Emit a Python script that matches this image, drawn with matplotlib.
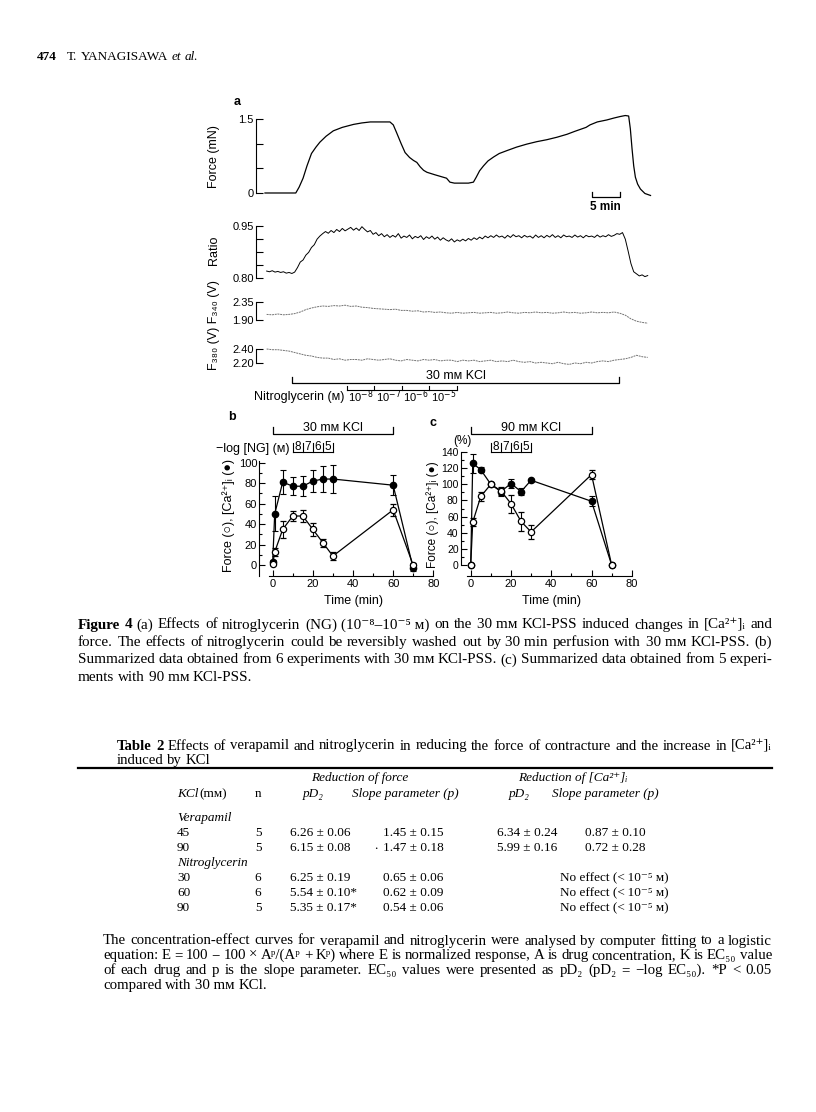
import numpy as np
import matplotlib
matplotlib.use('Agg')
import matplotlib.pyplot as plt
from matplotlib.transforms import blended_transform_factory

W, H = 816, 1112
SERIF = ['Liberation Serif', 'DejaVu Serif', 'DejaVu Sans']
SANS = ['Liberation Sans', 'DejaVu Sans']
plt.rcParams['font.family'] = SANS

# ---- panel a: traces (time in min) ----
force_t = [-0.3, 5.2, 5.8, 6.5, 7.2, 8.0, 8.8, 9.5, 10.6, 11.9, 13.5, 15.5, 17.0, 18.5,
           20.5, 22.0, 22.6, 23.2, 24.0, 24.7, 25.5, 26.2, 26.8, 27.4, 28.0, 28.6, 30.0,
           31.5, 32.1, 32.7, 33.5, 34.5, 36.0, 36.9, 37.4, 38.0, 38.7, 39.5, 40.5, 41.5,
           42.9, 44.6, 46.4, 48.2, 50.0, 51.8, 53.6, 55.0, 56.0, 57.0, 57.7, 59.0, 60.7,
           62.0, 63.1, 64.0, 64.6, 64.9, 65.2, 65.5, 65.8, 66.2, 66.7, 67.5, 68.5]
force_v = [0.0, 0.0, 0.12, 0.30, 0.55, 0.80, 0.93, 1.03, 1.15, 1.26, 1.33, 1.39, 1.42, 1.44,
           1.44, 1.44, 1.38, 1.22, 1.00, 0.82, 0.72, 0.66, 0.62, 0.53, 0.46, 0.42, 0.37,
           0.32, 0.30, 0.22, 0.20, 0.20, 0.20, 0.22, 0.32, 0.45, 0.55, 0.65, 0.73, 0.80,
           0.86, 0.93, 0.99, 1.04, 1.08, 1.13, 1.19, 1.25, 1.29, 1.33, 1.38, 1.44, 1.48,
           1.52, 1.55, 1.57, 1.56, 1.30, 0.90, 0.55, 0.32, 0.18, 0.08, -0.01, -0.05]

ratio_v = [0.820, 0.818, 0.821, 0.817, 0.819, 0.816, 0.818, 0.814, 0.816, 0.813,
           0.817, 0.830, 0.846, 0.852, 0.866, 0.874, 0.888, 0.896, 0.912, 0.921,
           0.928, 0.934, 0.929, 0.937, 0.931, 0.940, 0.934, 0.943, 0.936, 0.941,
           0.946, 0.938, 0.944, 0.937, 0.948, 0.940, 0.933, 0.937, 0.926, 0.931,
           0.922, 0.928, 0.919, 0.925, 0.917, 0.923, 0.918, 0.928, 0.915, 0.921,
           0.917, 0.924, 0.913, 0.920, 0.916, 0.922, 0.911, 0.919, 0.914, 0.921,
           0.912, 0.918, 0.909, 0.916, 0.910, 0.906, 0.913, 0.904, 0.910, 0.906,
           0.912, 0.907, 0.914, 0.909, 0.916, 0.911, 0.918, 0.913, 0.921, 0.916,
           0.922, 0.917, 0.924, 0.918, 0.921, 0.915, 0.923, 0.917, 0.925, 0.919,
           0.922, 0.916, 0.923, 0.918, 0.921, 0.915, 0.924, 0.917, 0.922, 0.916,
           0.923, 0.918, 0.925, 0.917, 0.922, 0.916, 0.924, 0.919, 0.921, 0.917,
           0.924, 0.918, 0.922, 0.916, 0.923, 0.919, 0.921, 0.917, 0.924, 0.918,
           0.922, 0.919, 0.925, 0.920, 0.923, 0.928, 0.926, 0.931, 0.912, 0.878,
           0.842, 0.818, 0.812, 0.806, 0.809, 0.804, 0.807]
ratio_t = np.arange(len(ratio_v)) * 0.5

f340_v = [2.04, 2.03, 2.05, 2.03, 2.04, 2.06, 2.10, 2.16, 2.20, 2.23,
          2.25, 2.24, 2.26, 2.25, 2.27, 2.24, 2.25, 2.22, 2.21, 2.19,
          2.18, 2.17, 2.16, 2.17, 2.14, 2.14, 2.12, 2.13, 2.10, 2.11,
          2.09, 2.10, 2.08, 2.07, 2.09, 2.07, 2.08, 2.09, 2.07, 2.08,
          2.09, 2.07, 2.08, 2.10, 2.08, 2.07, 2.09, 2.08, 2.10, 2.08,
          2.09, 2.07, 2.08, 2.10, 2.08, 2.09, 2.07, 2.08, 2.10, 2.08,
          2.09, 2.08, 2.10, 2.07, 2.02, 1.93, 1.87, 1.84, 1.82]
f380_v = [2.40, 2.39, 2.39, 2.38, 2.37, 2.35, 2.33, 2.31, 2.30, 2.28,
          2.27, 2.27, 2.25, 2.26, 2.24, 2.25, 2.25, 2.24, 2.26, 2.25,
          2.24, 2.25, 2.26, 2.24, 2.23, 2.25, 2.24, 2.23, 2.25, 2.24,
          2.25, 2.23, 2.24, 2.24, 2.22, 2.24, 2.23, 2.24, 2.22, 2.23,
          2.24, 2.22, 2.23, 2.22, 2.24, 2.22, 2.21, 2.22, 2.20, 2.21,
          2.20, 2.19, 2.21, 2.19, 2.18, 2.20, 2.19, 2.21, 2.20, 2.22,
          2.23, 2.22, 2.24, 2.25, 2.26, 2.28, 2.31, 2.29, 2.28]
fl_t = np.arange(len(f340_v)) * 1.0

kcl_on, kcl_off = 4.5, 62.9
ng_steps = [14.3, 19.2, 24.1, 29.0, 33.9]
ng_labels = [r'10$^{-8}$', r'10$^{-7}$', r'10$^{-6}$', r'10$^{-5}$']
scale_start, scale_len = 58.0, 5.0

# ---- panels b and c: summarized data (% of KCl response) ----
sum_time = [0, 1, 5, 10, 15, 20, 25, 30, 60, 70]
b_force = [1, 13, 35, 48, 48, 35, 22, 9, 54, 0]
b_force_err = [1, 4, 8, 5, 6, 6, 4, 4, 6, 2]
b_ca = [3, 50, 81, 77, 77, 82, 84, 84, 78, -3]
b_ca_err = [2, 17, 12, 9, 10, 11, 13, 14, 10, 3]
c_force = [0, 53, 85, 100, 92, 76, 54, 41, 112, 0]
c_force_err = [0, 5, 6, 0, 5, 11, 12, 9, 6, 0]
c_ca = [0, 126, 118, 100, 91, 101, 91, 105, 79, 0]
c_ca_err = [0, 12, 3, 0, 5, 6, 4, 2, 6, 0]
ng_edges = [10, 15, 20, 25, 30]
ng_log = ['8', '7', '6', '5']
kcl_window = (0, 60)

# ---- table 2 ----
kcl_conc = ['45', '90', '30', '60', '90']
n_exp = ['5', '5', '6', '6', '5']
force_pd2 = ['6.26 ± 0.06', '6.15 ± 0.08', '6.25 ± 0.19', '5.54 ± 0.10*', '5.35 ± 0.17*']
force_slope = ['1.45 ± 0.15', '1.47 ± 0.18', '0.65 ± 0.06', '0.62 ± 0.09', '0.54 ± 0.06']
ca_pd2 = ['6.34 ± 0.24', '5.99 ± 0.16']
ca_slope = ['0.87 ± 0.10', '0.72 ± 0.28']

caption = [
    '§bFigure §b4  (a) Effects of nitroglycerin (NG) (10⁻⁸–10⁻⁵\u00a0м) on the 30\u00a0mм KCl-PSS induced changes in [Ca²⁺]ᵢ and',
    'force. The effects of nitroglycerin could be reversibly washed out by 30\u00a0min perfusion with 30\u00a0mм KCl-PSS. (b)',
    'Summarized data obtained from 6 experiments with 30\u00a0mм KCl-PSS. (c) Summarized data obtained from 5 experi-',
    'ments with 90\u00a0mм KCl-PSS.',
]
table_title = [
    '§bTable §b2  Effects of verapamil and nitroglycerin in reducing the force of contracture and the increase in [Ca²⁺]ᵢ',
    'induced by KCl',
]
footnote = [
    'The concentration-effect curves for verapamil and nitroglycerin were analysed by computer fitting to a logistic',
    'equation: E = 100 − 100 × Aᵖ/(Aᵖ + Kᵖ) where E is normalized response, A is drug concentration, K is EC₅₀ value',
    'of each drug and p is the slope parameter. EC₅₀ values were presented as pD₂ (pD₂ = −log EC₅₀). *§iP < 0.05',
    'compared with 30\u00a0mм KCl.',
]


def fx(x):
    return x / W


def fy(y):
    return 1 - y / H


fig = plt.figure(figsize=(W / 100, H / 100), dpi=100)
fig.patch.set_facecolor('white')
renderer = fig.canvas.get_renderer()


def add_axes_px(x0, y0, x1, y1):
    ax = fig.add_axes([fx(x0), fy(y1), (x1 - x0) / W, (y1 - y0) / H])
    ax.patch.set_visible(False)
    return ax


def make_words(line, x0, y, size):
    items = []
    for w in line.split(' '):
        if w == '':
            continue
        st = {}
        if w.startswith('§b'):
            w, st = w[2:], {'fontweight': 'bold'}
        elif w.startswith('§i'):
            w, st = w[2:], {'fontstyle': 'italic'}
        elif '§i' in w:
            w = w.replace('§i', '')
        items.append(fig.text(fx(x0), fy(y), w, fontsize=size, family=SERIF,
                              va='center', ha='left', **st))
    return items


def natural_width(line, size):
    items = make_words(line, 0, 0, size)
    wd = sum(t.get_window_extent(renderer).width for t in items)
    for t in items:
        t.remove()
    return wd + (len(items) - 1) * size * 100 / 72 * 0.25


def text_line(x0, x1, y, line, size, justify=True):
    items = make_words(line, x0, y, size)
    widths = [t.get_window_extent(renderer).width for t in items]
    gap = size * 100 / 72 * 0.25
    if justify and len(items) > 1:
        gap = (x1 - x0 - sum(widths)) / (len(items) - 1)
    x = x0
    for t, wd in zip(items, widths):
        t.set_x(fx(x))
        x += wd + gap


def paragraph(lines, x0, x1, y0, dy, max_size=11.0):
    # pick a size so that full lines fill the measure with ordinary word spaces
    full = lines[:-1] if len(lines) > 1 else lines
    sizes = [10 * (x1 - x0) / natural_width(l, 10) for l in full]
    size = min(float(np.median(sizes)) * 0.985, max_size)
    for i, line in enumerate(lines):
        text_line(x0, x1, y0 + i * dy, line, size, justify=i < len(lines) - 1)


# ================= panel a =================
T_LIM = (-1.9, 69.3)


def trace_axes(y0, y1, ylim, ticks, labels):
    ax = add_axes_px(256, y0, 655, y1)
    ax.set_xlim(*T_LIM)
    ax.set_ylim(*ylim)
    for s in ['top', 'right', 'bottom']:
        ax.spines[s].set_visible(False)
    ax.spines['left'].set_bounds(ticks[0], ticks[-1])
    ax.spines['left'].set_linewidth(0.8)
    ax.set_xticks([])
    ax.set_yticks(ticks)
    ax.set_yticklabels(labels)
    ax.tick_params(axis='y', direction='in', length=5, width=0.8, labelsize=8, pad=1.5)
    return ax

ax_f = trace_axes(110, 200, (-0.142, 1.682), [0, 0.5, 1.0, 1.5], ['0', '', '', '1.5'])
ax_f.plot(force_t, force_v, color='black', lw=0.9)

ax_r = trace_axes(215, 285, (0.7798, 0.9817), list(np.linspace(0.80, 0.95, 5)),
                  ['0.80', '', '', '', '0.95'])
ax_r.plot(ratio_t, ratio_v, color='black', lw=0.7)

ax_340 = trace_axes(292, 330, (1.65, 2.60), [1.90, 2.35], ['1.90', '2.35'])
ax_340.plot(fl_t, f340_v, color='0.45', lw=0.7, ls=(0, (2, 0.8)))

ax_380 = trace_axes(340, 372, (2.0714, 2.5286), [2.20, 2.40], ['2.20', '2.40'])
ax_380.plot(fl_t, f380_v, color='0.45', lw=0.7, ls=(0, (2, 0.8)))

ta = blended_transform_factory(ax_f.transData, fig.transFigure)
# 5 min scale bar
ax_f.plot([scale_start, scale_start, scale_start + scale_len, scale_start + scale_len],
          [0.02, -0.08, -0.08, 0.02], color='black', lw=0.9, clip_on=False)
fig.text(scale_start + scale_len / 2, fy(207), '5 min', transform=ta, ha='center',
         va='center', fontsize=8.5, fontweight='bold')
# KCl and nitroglycerin application bars
fig.lines.append(plt.Line2D([kcl_on, kcl_on, kcl_off, kcl_off], [fy(377), fy(383), fy(383), fy(377)],
                            transform=ta, color='black', lw=0.9))
fig.text((kcl_on + kcl_off) / 2, fy(376), '30 mм KCl', transform=ta, ha='center', va='center',
         fontsize=9)
fig.lines.append(plt.Line2D([ng_steps[0], ng_steps[-1]], [fy(390), fy(390)], transform=ta,
                            color='black', lw=0.8))
for s in ng_steps:
    fig.lines.append(plt.Line2D([s, s], [fy(386), fy(390)], transform=ta, color='black', lw=0.8))
for s, lab in zip(ng_steps[:-1], ng_labels):
    fig.text(s + 0.3, fy(397), lab, transform=ta, ha='left', va='center', fontsize=8)
fig.text(fx(344), fy(397), 'Nitroglycerin (м)', ha='right', va='center', fontsize=9)

fig.text(fx(237), fy(102), 'a', fontsize=9, fontweight='bold', ha='center', va='center')
fig.text(fx(214), fy(157), 'Force (mN)', rotation=90, fontsize=9, ha='center', va='center')
fig.text(fx(214), fy(250), 'Ratio', rotation=90, fontsize=9, ha='center', va='center')
fig.text(fx(214), fy(325), 'F₃₈₀ (V) F₃₄₀ (V)', rotation=90, fontsize=9, ha='center',
         va='center', family=SANS)


# ================= panels b, c =================
def summary_axes(x0, x1, y0, xlim, ylim, ybounds, yticks, ylab_size=8):
    ax = add_axes_px(x0, y0, x1, 576)
    ax.set_xlim(*xlim)
    ax.set_ylim(*ylim)
    for s in ['top', 'right']:
        ax.spines[s].set_visible(False)
    ax.spines['left'].set_bounds(*ybounds)
    ax.spines['bottom'].set_bounds(-2, 80)
    for s in ['left', 'bottom']:
        ax.spines[s].set_linewidth(0.8)
    ax.set_xticks(np.arange(0, 81, 20))
    ax.set_xticks(np.arange(10, 80, 20), minor=True)
    ax.set_yticks(yticks)
    ax.set_yticks(np.arange(yticks[0] + 10, yticks[-1], 20), minor=True)
    ax.tick_params(which='major', direction='in', length=4, width=0.8, labelsize=8, pad=2)
    ax.tick_params(axis='y', which='major', labelsize=ylab_size, pad=1.5)
    ax.tick_params(which='minor', direction='in', length=2.5, width=0.8)
    return ax


def draw_summary(ax, f, fe, ca, cae):
    ax.errorbar(sum_time, ca, yerr=cae, fmt='-o', color='black', ms=4.5, lw=0.9,
                elinewidth=0.8, capsize=2, capthick=0.8, zorder=2, clip_on=False)
    ax.errorbar(sum_time, f, yerr=fe, fmt='-o', color='black', mfc='white', mec='black',
                ms=4.5, mew=0.9, lw=0.9, elinewidth=0.8, capsize=2, capthick=0.8, zorder=3,
                clip_on=False)


def top_brackets(ax, label):
    tb = blended_transform_factory(ax.transData, fig.transFigure)
    k0, k1 = kcl_window
    fig.lines.append(plt.Line2D([k0, k0, k1, k1], [fy(427), fy(434), fy(434), fy(427)],
                                transform=tb, color='black', lw=0.9))
    fig.text((k0 + k1) / 2, fy(428), label, transform=tb, ha='center', va='center', fontsize=9)
    fig.lines.append(plt.Line2D([ng_edges[0], ng_edges[-1]], [fy(452), fy(452)],
                                transform=tb, color='black', lw=0.8))
    for e in ng_edges:
        fig.lines.append(plt.Line2D([e, e], [fy(443), fy(452)], transform=tb,
                                    color='black', lw=0.8))
    for a, b, lab in zip(ng_edges[:-1], ng_edges[1:], ng_log):
        fig.text((a + b) / 2, fy(447), lab, transform=tb, ha='center', va='center', fontsize=8.5)


ax_b = summary_axes(259.3, 436, 455, (-6.67, 81.35), (-10.42, 107.4), (-10, 102),
                    np.arange(0, 101, 20))
draw_summary(ax_b, b_force, b_force_err, b_ca, b_ca_err)
top_brackets(ax_b, '30 mм KCl')

ax_c = summary_axes(460.7, 634, 445, (-4.97, 81.1), (-13.6, 148.7), (0, 140),
                    np.arange(0, 141, 20), ylab_size=7.5)
draw_summary(ax_c, c_force, c_force_err, c_ca, c_ca_err)
top_brackets(ax_c, '90 mм KCl')

fig.text(fx(232), fy(417), 'b', fontsize=9, fontweight='bold', ha='center', va='center')
fig.text(fx(433), fy(423), 'c', fontsize=9, fontweight='bold', ha='center', va='center')
fig.text(fx(289), fy(449), '−log [NG] (м)', fontsize=9, ha='right', va='center')
fig.text(fx(462), fy(441), '(%)', fontsize=8.5, ha='center', va='center')
fig.text(fx(229), fy(515), 'Force (○), [Ca²⁺]ᵢ (●)', rotation=90, fontsize=9,
         ha='center', va='center')
fig.text(fx(433), fy(515), 'Force (○), [Ca²⁺]ᵢ (●)', rotation=90, fontsize=8.5,
         ha='center', va='center')
fig.text(fx(353), fy(601), 'Time (min)', fontsize=9, ha='center', va='center')
fig.text(fx(551), fy(601), 'Time (min)', fontsize=9, ha='center', va='center')

# ================= page text =================
text_line(37, 0, 57, '§b474', size=9.5, justify=False)
text_line(67, 0, 57, 'T. YANAGISAWA §iet §ial.', size=9.5, justify=False)

paragraph(caption, 78, 772, 625, 17.4)
paragraph(table_title, 117, 772, 746, 14.5)

fig.lines.append(plt.Line2D([fx(78), fx(772)], [fy(768), fy(768)], transform=fig.transFigure,
                            color='black', lw=1.6))

hdr = dict(family=SERIF, fontsize=9.5, va='center', fontstyle='italic')
fig.text(fx(360), fy(778), 'Reduction of force', ha='center', **hdr)
fig.text(fx(573), fy(778), 'Reduction of [Ca²⁺]ᵢ', ha='center', **hdr)
fig.text(fx(177), fy(794), 'KCl', ha='left', **hdr)
fig.text(fx(199), fy(794), '(mм)', ha='left', family=SERIF, fontsize=9.5, va='center')
fig.text(fx(258), fy(794), 'n', ha='center', family=SERIF, fontsize=9.5, va='center')
for xc in (313, 519):
    fig.text(fx(xc), fy(794), 'pD₂', ha='center', **hdr)
for xc in (405, 605):
    fig.text(fx(xc), fy(794), 'Slope parameter (p)', ha='center', **hdr)

fig.text(fx(177), fy(818), 'Verapamil', ha='left', **hdr)
fig.text(fx(177), fy(863), 'Nitroglycerin', ha='left', **hdr)
row_y = [833, 848, 878, 893, 908]
body = dict(family=SERIF, fontsize=9.5, va='center')
for i, y in enumerate(row_y):
    fig.text(fx(177), fy(y), kcl_conc[i], ha='left', **body)
    fig.text(fx(258), fy(y), n_exp[i], ha='center', **body)
    fig.text(fx(290), fy(y), force_pd2[i], ha='left', **body)
    fig.text(fx(383), fy(y), force_slope[i], ha='left', **body)
    if i < len(ca_pd2):
        fig.text(fx(497), fy(y), ca_pd2[i], ha='left', **body)
        fig.text(fx(585), fy(y), ca_slope[i], ha='left', **body)
    else:
        fig.text(fx(560), fy(y), 'No effect (<\u200910⁻⁵\u00a0м)', ha='left', **body)
fig.text(fx(376), fy(846), '.', ha='center', **body)

paragraph(footnote, 103, 772, 941, 14.7)

fig.savefig('out.png', dpi=100, facecolor='white')
